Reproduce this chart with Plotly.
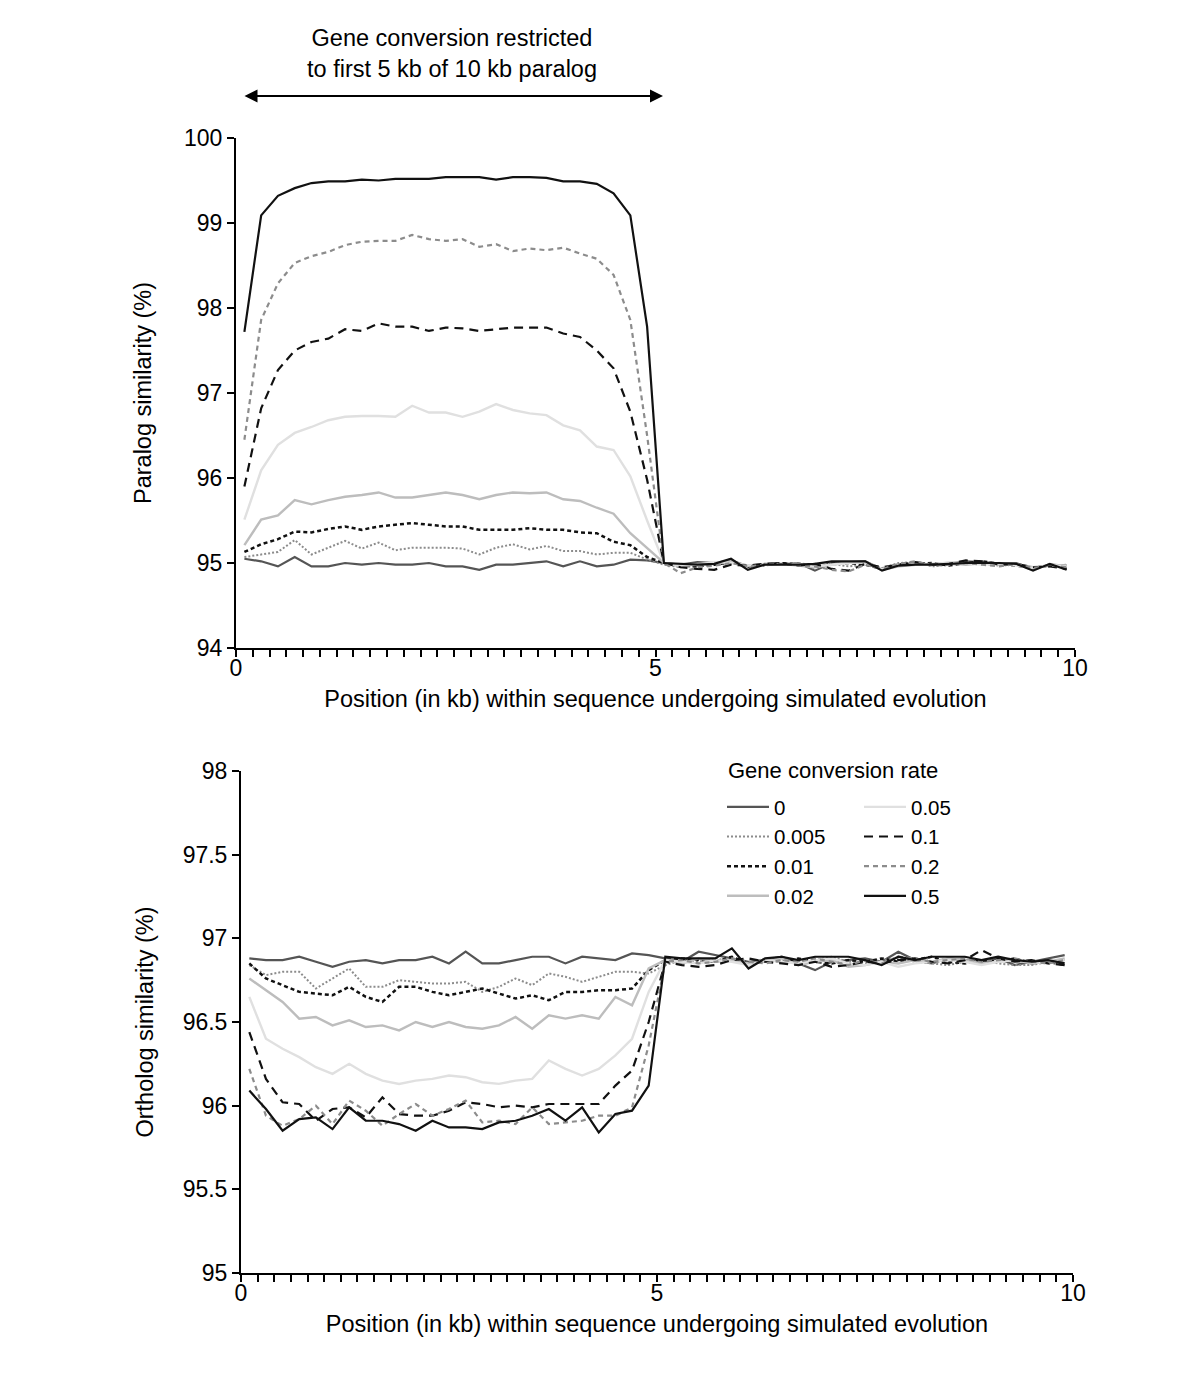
import plotly.graph_objects as go

# ---------------- data ----------------
positions_kb = [0.1, 0.3, 0.5, 0.7, 0.9, 1.1, 1.3, 1.5, 1.7, 1.9,
                2.1, 2.3, 2.5, 2.7, 2.9, 3.1, 3.3, 3.5, 3.7, 3.9,
                4.1, 4.3, 4.5, 4.7, 4.9, 5.1, 5.3, 5.5, 5.7, 5.9,
                6.1, 6.3, 6.5, 6.7, 6.9, 7.1, 7.3, 7.5, 7.7, 7.9,
                8.1, 8.3, 8.5, 8.7, 8.9, 9.1, 9.3, 9.5, 9.7, 9.9]

rate_labels = ["0", "0.005", "0.01", "0.02", "0.05", "0.1", "0.2", "0.5"]

# Paralog similarity (%)
paralog_0 = [95.05, 95.02, 94.96, 95.07, 94.96, 94.96, 95.0, 94.98, 95.0, 94.98,
             94.98, 95.0, 94.96, 94.96, 94.92, 94.98, 94.98, 95.0, 95.02, 94.96,
             95.02, 94.96, 94.98, 95.04, 95.03,
             95.0, 94.98, 95.01, 95.0, 95.03, 94.96, 94.99, 94.98, 95.0, 94.91,
             95.0, 95.01, 95.02, 94.93, 94.97, 95.0, 94.98, 95.0, 95.02, 95.01,
             94.99, 95.0, 94.93, 94.98, 94.97]
paralog_0005 = [95.07, 95.1, 95.13, 95.27, 95.1, 95.18, 95.26, 95.17, 95.24, 95.15,
                95.18, 95.18, 95.18, 95.17, 95.1, 95.18, 95.22, 95.16, 95.2, 95.14,
                95.14, 95.1, 95.12, 95.12, 95.04,
                94.98, 94.95, 94.97, 95.0, 95.02, 94.95, 94.97, 94.99, 95.0, 94.97,
                94.99, 94.96, 94.98, 94.94, 95.0, 95.01, 94.96, 94.98, 95.0, 94.99,
                94.97, 94.98, 94.95, 94.96, 94.98]
paralog_001 = [95.13, 95.22, 95.28, 95.37, 95.36, 95.4, 95.43, 95.39, 95.43, 95.45,
               95.47, 95.45, 95.43, 95.43, 95.39, 95.39, 95.39, 95.41, 95.39, 95.39,
               95.36, 95.35, 95.25, 95.21, 95.07,
               95.0, 94.97, 94.96, 94.98, 95.01, 94.96, 94.98, 95.0, 94.98, 94.95,
               94.99, 95.0, 94.98, 94.93, 94.98, 94.99, 95.0, 94.97, 95.0, 95.02,
               94.99, 94.97, 94.94, 94.98, 94.95]
paralog_002 = [95.21, 95.51, 95.56, 95.74, 95.69, 95.74, 95.78, 95.8, 95.83, 95.77,
               95.77, 95.8, 95.83, 95.8, 95.75, 95.8, 95.83, 95.82, 95.83, 95.75,
               95.73, 95.65, 95.58, 95.35, 95.18,
               95.0, 94.96, 94.99, 95.0, 95.02, 94.97, 94.98, 94.99, 94.97, 94.95,
               94.98, 95.01, 95.0, 94.92, 94.96, 94.98, 94.99, 95.0, 94.98, 95.0,
               94.98, 94.99, 94.95, 94.97, 94.97]
paralog_005 = [95.51, 96.09, 96.39, 96.53, 96.6, 96.68, 96.72, 96.73, 96.73, 96.72,
               96.85, 96.77, 96.77, 96.72, 96.78, 96.87, 96.8, 96.76, 96.74, 96.62,
               96.56, 96.37, 96.33, 96.02, 95.5,
               95.0, 94.97, 94.98, 95.01, 95.0, 94.97, 94.99, 94.98, 94.99, 94.96,
               94.98, 95.0, 95.01, 94.93, 94.97, 94.99, 94.98, 95.01, 95.0, 94.98,
               95.0, 94.97, 94.94, 94.98, 94.96]
paralog_01 = [95.9, 96.82, 97.27, 97.5, 97.6, 97.64, 97.75, 97.73, 97.82, 97.78,
              97.78, 97.73, 97.77, 97.76, 97.73, 97.75, 97.77, 97.77, 97.77, 97.7,
              97.66, 97.5, 97.29, 96.78, 95.98,
              95.0, 94.95, 94.93, 94.92, 94.98, 94.97, 94.99, 95.0, 94.97, 94.99,
              94.93, 94.91, 94.99, 94.95, 94.98, 95.01, 94.98, 94.99, 95.03, 95.02,
              94.98, 94.99, 94.95, 94.96, 94.93]
paralog_02 = [96.45, 97.86, 98.29, 98.53, 98.61, 98.66, 98.74, 98.78, 98.79, 98.79,
              98.86, 98.81, 98.79, 98.81, 98.72, 98.75, 98.67, 98.7, 98.68, 98.71,
              98.64, 98.58, 98.39, 97.86, 96.5,
              95.0, 94.88, 94.95, 94.97, 95.0, 94.96, 94.98, 94.99, 94.97, 94.96,
              94.92, 94.9, 94.98, 94.93, 94.99, 95.02, 94.97, 94.98, 95.0, 94.98,
              94.96, 94.99, 94.94, 94.97, 94.95]
paralog_05 = [97.72, 99.09, 99.32, 99.41, 99.47, 99.49, 99.49, 99.51, 99.5, 99.52,
              99.52, 99.52, 99.54, 99.54, 99.54, 99.51, 99.54, 99.54, 99.53, 99.49,
              99.49, 99.46, 99.35, 99.09, 97.78,
              95.0, 94.99, 94.98, 94.99, 95.05, 94.92, 94.98, 94.98, 94.98, 94.99,
              95.02, 95.02, 95.02, 94.91, 94.97, 94.98, 94.98, 94.99, 95.0, 95.0,
              95.0, 94.99, 94.91, 94.99, 94.92]

# Ortholog similarity (%)
ortholog_0 = [96.88, 96.87, 96.87, 96.89, 96.86, 96.83, 96.86, 96.87, 96.85, 96.87,
              96.87, 96.89, 96.85, 96.92, 96.85, 96.85, 96.87, 96.89, 96.89, 96.85,
              96.89, 96.88, 96.87, 96.91, 96.9,
              96.88, 96.86, 96.92, 96.9, 96.88, 96.86, 96.87, 96.89, 96.85, 96.81,
              96.86, 96.87, 96.88, 96.86, 96.92, 96.87, 96.85, 96.88, 96.87, 96.86,
              96.88, 96.84, 96.86, 96.88, 96.9]
ortholog_0005 = [96.84, 96.78, 96.8, 96.8, 96.7, 96.76, 96.82, 96.71, 96.71, 96.75,
                 96.74, 96.73, 96.73, 96.74, 96.68, 96.71, 96.76, 96.72, 96.79, 96.77,
                 96.74, 96.77, 96.8, 96.8, 96.79,
                 96.84, 96.87, 96.86, 96.88, 96.86, 96.85, 96.88, 96.87, 96.86, 96.87,
                 96.89, 96.86, 96.85, 96.87, 96.88, 96.86, 96.85, 96.84, 96.86, 96.87,
                 96.85, 96.84, 96.84, 96.86, 96.87]
ortholog_001 = [96.85, 96.76, 96.72, 96.68, 96.67, 96.66, 96.71, 96.65, 96.62, 96.71,
                96.71, 96.68, 96.66, 96.68, 96.7, 96.67, 96.64, 96.66, 96.63, 96.68,
                96.68, 96.69, 96.69, 96.7, 96.81,
                96.87, 96.88, 96.87, 96.86, 96.89, 96.85, 96.87, 96.86, 96.88, 96.86,
                96.85, 96.87, 96.86, 96.88, 96.86, 96.87, 96.89, 96.86, 96.85, 96.87,
                96.86, 96.88, 96.85, 96.86, 96.84]
ortholog_002 = [96.76, 96.69, 96.62, 96.52, 96.53, 96.48, 96.51, 96.47, 96.48, 96.45,
                96.5, 96.47, 96.5, 96.47, 96.46, 96.48, 96.53, 96.46, 96.54, 96.52,
                96.54, 96.52, 96.65, 96.6, 96.82,
                96.87, 96.85, 96.88, 96.86, 96.87, 96.85, 96.86, 96.88, 96.84, 96.86,
                96.87, 96.83, 96.84, 96.86, 96.85, 96.87, 96.86, 96.88, 96.87, 96.85,
                96.86, 96.87, 96.85, 96.86, 96.88]
ortholog_005 = [96.65, 96.4, 96.34, 96.29, 96.23, 96.19, 96.25, 96.19, 96.15, 96.13,
                96.15, 96.16, 96.18, 96.17, 96.14, 96.13, 96.15, 96.16, 96.27, 96.22,
                96.18, 96.22, 96.3, 96.4, 96.68,
                96.87, 96.86, 96.85, 96.87, 96.86, 96.84, 96.87, 96.86, 96.85, 96.87,
                96.88, 96.85, 96.84, 96.86, 96.83, 96.85, 96.86, 96.87, 96.86, 96.84,
                96.86, 96.87, 96.86, 96.85, 96.87]
ortholog_01 = [96.44, 96.16, 96.02, 96.01, 95.91, 95.98, 95.99, 95.93, 96.05, 95.95,
               95.94, 95.94, 95.97, 96.02, 96.01, 95.99, 96.0, 95.99, 96.01, 96.01,
               96.01, 96.01, 96.12, 96.21, 96.5,
               96.86, 96.84, 96.83, 96.84, 96.87, 96.88, 96.86, 96.85, 96.84, 96.86,
               96.83, 96.84, 96.86, 96.85, 96.87, 96.88, 96.86, 96.85, 96.87, 96.93,
               96.88, 96.86, 96.87, 96.85, 96.84]
ortholog_02 = [96.22, 95.94, 95.88, 95.92, 96.0, 95.89, 96.03, 95.97, 95.88, 95.95,
               96.01, 95.94, 95.98, 96.03, 95.9, 95.91, 95.89, 95.99, 95.89, 95.9,
               95.91, 95.94, 95.94, 95.99, 96.36,
               96.86, 96.87, 96.85, 96.86, 96.88, 96.86, 96.85, 96.87, 96.86, 96.88,
               96.86, 96.84, 96.87, 96.85, 96.89, 96.88, 96.86, 96.87, 96.88, 96.86,
               96.87, 96.88, 96.86, 96.85, 96.87]
ortholog_05 = [96.09, 95.98, 95.85, 95.92, 95.93, 95.86, 95.99, 95.91, 95.91, 95.89,
               95.85, 95.91, 95.87, 95.87, 95.86, 95.9, 95.91, 95.94, 95.98, 95.91,
               95.99, 95.84, 95.95, 95.97, 96.12,
               96.89, 96.88, 96.88, 96.88, 96.94, 96.82, 96.88, 96.89, 96.87, 96.89,
               96.89, 96.89, 96.87, 96.84, 96.89, 96.87, 96.89, 96.89, 96.89, 96.87,
               96.89, 96.87, 96.86, 96.87, 96.85]

paralog_series = [paralog_0, paralog_0005, paralog_001, paralog_002,
                  paralog_005, paralog_01, paralog_02, paralog_05]
ortholog_series = [ortholog_0, ortholog_0005, ortholog_001, ortholog_002,
                   ortholog_005, ortholog_01, ortholog_02, ortholog_05]

# ---------------- styles ----------------
line_styles = [
    dict(color="#555555", width=2.2, dash="solid"),
    dict(color="#8c8c8c", width=2, dash="2px,2px"),
    dict(color="#111111", width=2.5, dash="4px,3px"),
    dict(color="#bdbdbd", width=2.4, dash="solid"),
    dict(color="#e0e0e0", width=2.4, dash="solid"),
    dict(color="#111111", width=2.2, dash="9px,6px"),
    dict(color="#8c8c8c", width=2.2, dash="5px,4px"),
    dict(color="#111111", width=2.2, dash="solid"),
]

FONT = "Liberation Sans, Arial, Helvetica, sans-serif"
FS = 23.5      # titles / annotations
FS_TICK = 23
FS_LEG = 20.5
W, H = 1200, 1373
OFF = 8        # page body margin of the rendered html


def X(px):
    return (px - OFF) / W


def Y(py):
    return 1 - (py - OFF) / H


fig = go.Figure()

for i, (lab, ys) in enumerate(zip(rate_labels, paralog_series)):
    fig.add_trace(go.Scatter(x=positions_kb, y=ys, mode="lines", name=lab,
                             line=line_styles[i], showlegend=False,
                             xaxis="x", yaxis="y"))

for i, (lab, ys) in enumerate(zip(rate_labels, ortholog_series)):
    fig.add_trace(go.Scatter(x=positions_kb, y=ys, mode="lines", name=lab,
                             line=line_styles[i], showlegend=True,
                             legend="legend" if i < 4 else "legend2",
                             xaxis="x2", yaxis="y2"))

axis_common = dict(showgrid=False, zeroline=False, showline=True,
                   linecolor="black", linewidth=2, ticks="outside",
                   ticklen=7, tickwidth=1.5, tickcolor="black",
                   tickfont=dict(family=FONT, size=FS_TICK, color="black"))

xaxis_common = dict(axis_common, range=[0, 10], tickvals=[0, 5, 10],
                    ticktext=["0", "5", "10"], ticklabelstandoff=-9,
                    minor=dict(dtick=0.2, tick0=0, ticks="outside", ticklen=7,
                               tickwidth=1.5, tickcolor="black"),
                    title=dict(text="Position (in kb) within sequence undergoing simulated evolution",
                               font=dict(family=FONT, size=FS, color="black"),
                               standoff=11))

fig.update_layout(
    width=W, height=H,
    margin=dict(l=0, r=0, t=0, b=0, autoexpand=False),
    paper_bgcolor="white", plot_bgcolor="white",
    font=dict(family=FONT, size=FS, color="black"),
    xaxis=dict(xaxis_common, domain=[X(236), X(1075)], anchor="y"),
    yaxis=dict(axis_common, domain=[Y(648), Y(138)], anchor="x",
               range=[94, 100], tickvals=[94, 95, 96, 97, 98, 99, 100],
               ticktext=["94", "95", "96", "97", "98", "99", "100"],
               title=dict(text="Paralog similarity (%)",
                          font=dict(family=FONT, size=FS, color="black"),
                          standoff=26)),
    xaxis2=dict(xaxis_common, domain=[X(241), X(1073)], anchor="y2"),
    yaxis2=dict(axis_common, domain=[Y(1273), Y(771)], anchor="x2",
                range=[95, 98], tickvals=[95, 95.5, 96, 96.5, 97, 97.5, 98],
                ticktext=["95", "95.5", "96", "96.5", "97", "97.5", "98"],
                title=dict(text="Ortholog similarity (%)",
                           font=dict(family=FONT, size=FS, color="black"),
                           standoff=22)),
    legend=dict(x=X(722), y=Y(787), xanchor="left", yanchor="top",
                bgcolor="rgba(0,0,0,0)", itemwidth=42,
                font=dict(family=FONT, size=FS_LEG, color="black"),
                tracegroupgap=0, traceorder="normal"),
    legend2=dict(x=X(859), y=Y(787), xanchor="left", yanchor="top",
                 bgcolor="rgba(0,0,0,0)", itemwidth=42,
                 font=dict(family=FONT, size=FS_LEG, color="black"),
                 tracegroupgap=0, traceorder="normal"),
)

# legend title
fig.add_annotation(xref="paper", yref="paper", x=X(726), y=Y(770),
                   xanchor="left", yanchor="middle", showarrow=False,
                   text="Gene conversion rate",
                   font=dict(family=FONT, size=22, color="black"))

# header text and double-headed arrow
fig.add_annotation(xref="paper", yref="paper", x=X(452), y=Y(53),
                   xanchor="center", yanchor="middle", showarrow=False,
                   text="Gene conversion restricted<br>to first 5 kb of 10 kb paralog",
                   font=dict(family=FONT, size=FS, color="black"))
fig.add_annotation(xref="paper", yref="paper", x=X(663), y=Y(96),
                   axref="pixel", ayref="pixel", ax=243 - 663, ay=0,
                   text="", showarrow=True, arrowside="end+start",
                   arrowhead=2, arrowsize=1.3, arrowwidth=2, arrowcolor="black")

fig.write_html("out.html")
